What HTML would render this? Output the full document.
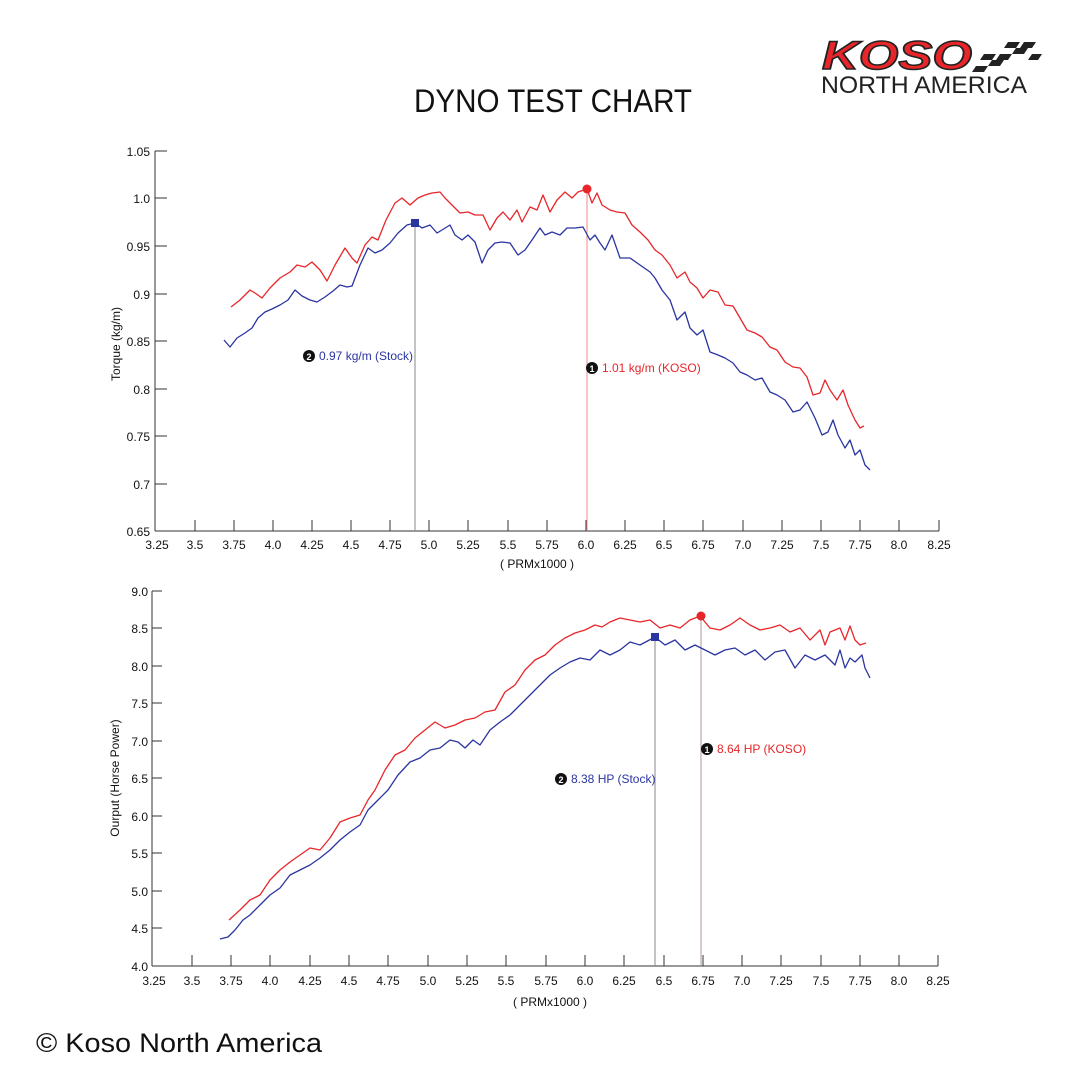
<!DOCTYPE html>
<html><head><meta charset="utf-8"><style>
body{margin:0;background:#fff;width:1080px;height:1080px;overflow:hidden}
svg{display:block}
text{font-family:"Liberation Sans",sans-serif}
</style></head><body>
<svg width="1080" height="1080" viewBox="0 0 1080 1080" xmlns="http://www.w3.org/2000/svg">
<!-- logo -->
<g>
<text x="822" y="69" font-size="40" font-weight="bold" font-style="italic" fill="#e8262a" stroke="#222" stroke-width="1.5" textLength="150" lengthAdjust="spacingAndGlyphs">KOSO</text>
<g fill="#222">
<polygon points="976,66 988,66 984,72 972,72"/><polygon points="992,60 1004,60 1000,66 988,66"/>
<polygon points="1000,54 1012,54 1008,60 996,60"/><polygon points="1016,48 1028,48 1024,54 1012,54"/>
<polygon points="1024,42 1036,42 1032,48 1020,48"/><polygon points="1008,42 1020,42 1016,48 1004,48"/>
<polygon points="1032,54 1042,54 1038,60 1028,60"/><polygon points="984,54 996,54 992,60 980,60"/>
</g>
<text x="821" y="93" font-size="24" fill="#222" textLength="206" lengthAdjust="spacingAndGlyphs">NORTH AMERICA</text>
</g>
<text x="553" y="112" font-size="32" text-anchor="middle" fill="#111" textLength="278" lengthAdjust="spacingAndGlyphs">DYNO TEST CHART</text>

<!-- TOP CHART -->
<g stroke="#333" stroke-width="1" fill="none">
<line x1="155" y1="151" x2="155" y2="531"/><line x1="155" y1="531" x2="939" y2="531"/>
<path d="M155 151h12M155 198h12M155 246h12M155 294h12M155 341h12M155 389h12M155 436h12M155 484h12"/>
<path d="M195 520v11M234 520v11M273 520v11M312 520v11M351 520v11M390 520v11M429 520v11M468 520v11M508 520v11M547 520v11M586 520v11M625 520v11M664 520v11M703 520v11M743 520v11M782 520v11M821 520v11M860 520v11M899 520v11M939 520v11"/>
</g>
<g font-size="12" fill="#111" text-anchor="end">
<text x="150" y="156">1.05</text><text x="150" y="203">1.0</text><text x="150" y="251">0.95</text><text x="150" y="299">0.9</text><text x="150" y="346">0.85</text><text x="150" y="394">0.8</text><text x="150" y="441">0.75</text><text x="150" y="489">0.7</text><text x="150" y="536">0.65</text>
</g>
<g font-size="12" fill="#111" text-anchor="middle">
<text x="157" y="549">3.25</text><text x="195" y="549">3.5</text><text x="234" y="549">3.75</text><text x="273" y="549">4.0</text><text x="312" y="549">4.25</text><text x="351" y="549">4.5</text><text x="390" y="549">4.75</text><text x="429" y="549">5.0</text><text x="468" y="549">5.25</text><text x="508" y="549">5.5</text><text x="547" y="549">5.75</text><text x="586" y="549">6.0</text><text x="625" y="549">6.25</text><text x="664" y="549">6.5</text><text x="703" y="549">6.75</text><text x="743" y="549">7.0</text><text x="782" y="549">7.25</text><text x="821" y="549">7.5</text><text x="860" y="549">7.75</text><text x="899" y="549">8.0</text><text x="939" y="549">8.25</text>
<text x="537" y="568">( PRMx1000 )</text>
</g>
<text transform="translate(120,344) rotate(-90)" font-size="12" text-anchor="middle" fill="#111">Torque (kg/m)</text>
<line x1="415" y1="223" x2="415" y2="531" stroke="#888" stroke-width="1"/>
<line x1="587" y1="189" x2="587" y2="531" stroke="#e88" stroke-width="1"/>
<polyline fill="none" stroke="#e8262a" stroke-width="1.3" stroke-linejoin="round" points="231,307 240,300 250,290 255,293 262,298 270,288 280,278 290,272 297,265 305,267 312,262 320,270 327,281 335,265 345,248 352,258 357,263 365,245 372,237 378,240 386,220 395,203 402,198 410,205 418,198 425,195 432,193 440,192 445,198 452,205 460,213 468,212 475,215 483,215 490,230 497,218 503,212 510,220 517,210 522,222 530,207 537,210 543,195 550,212 557,200 565,192 572,198 578,192 587,189 592,203 597,193 602,205 610,210 617,212 625,213 632,225 640,232 648,240 655,250 662,255 670,265 677,278 685,272 690,282 697,288 703,298 710,290 718,292 725,305 733,306 740,318 747,330 755,333 762,337 770,347 777,350 785,362 793,367 800,368 807,377 813,395 820,393 825,380 830,390 837,400 843,390 848,405 855,420 860,428 864,426"/>
<polyline fill="none" stroke="#2b35a0" stroke-width="1.3" stroke-linejoin="round" points="224,340 230,347 237,338 245,333 252,328 258,318 265,312 272,309 280,305 288,300 295,290 302,296 310,300 317,302 325,297 333,291 340,285 347,287 352,286 360,265 368,248 375,253 382,250 390,243 398,233 407,225 415,223 422,228 430,225 437,233 442,230 450,225 455,235 462,240 468,235 475,242 482,263 488,250 495,243 502,242 510,243 518,255 525,250 532,240 540,228 545,235 552,232 560,235 567,228 575,228 583,227 590,240 595,235 600,243 605,250 612,235 620,258 630,258 640,265 650,272 655,278 662,290 670,300 677,320 685,312 690,328 697,335 703,330 710,352 718,355 725,358 733,363 740,372 747,375 755,380 762,378 770,392 777,395 785,400 793,412 800,410 807,402 815,418 822,435 828,432 833,420 838,435 845,448 850,440 855,455 860,450 865,465 870,470"/>
<rect x="411" y="219" width="8" height="8" fill="#2b35a0"/>
<circle cx="587" cy="189" r="4.5" fill="#e8262a"/>
<circle cx="309" cy="356" r="6" fill="#111"/><text x="309" y="360" font-size="9" fill="#fff" text-anchor="middle" font-weight="bold">2</text>
<text x="319" y="360" font-size="12" fill="#2b35a0">0.97 kg/m (Stock)</text>
<circle cx="592" cy="368" r="6" fill="#111"/><text x="592" y="372" font-size="9" fill="#fff" text-anchor="middle" font-weight="bold">1</text>
<text x="602" y="372" font-size="12" fill="#e8262a">1.01 kg/m (KOSO)</text>

<!-- BOTTOM CHART -->
<g stroke="#333" stroke-width="1" fill="none">
<line x1="152" y1="591" x2="152" y2="966"/><line x1="152" y1="966" x2="938" y2="966"/>
<path d="M152 591h10M152 628h10M152 666h10M152 703h10M152 741h10M152 778h10M152 816h10M152 853h10M152 891h10M152 928h10"/>
<path d="M192 955v11M231 955v11M270 955v11M310 955v11M349 955v11M388 955v11M428 955v11M467 955v11M506 955v11M546 955v11M585 955v11M624 955v11M664 955v11M703 955v11M742 955v11M781 955v11M821 955v11M860 955v11M899 955v11M938 955v11"/>
</g>
<g font-size="12" fill="#111" text-anchor="end">
<text x="148" y="596">9.0</text><text x="148" y="633">8.5</text><text x="148" y="671">8.0</text><text x="148" y="708">7.5</text><text x="148" y="746">7.0</text><text x="148" y="783">6.5</text><text x="148" y="821">6.0</text><text x="148" y="858">5.5</text><text x="148" y="896">5.0</text><text x="148" y="933">4.5</text><text x="148" y="971">4.0</text>
</g>
<g font-size="12" fill="#111" text-anchor="middle">
<text x="154" y="985">3.25</text><text x="192" y="985">3.5</text><text x="231" y="985">3.75</text><text x="270" y="985">4.0</text><text x="310" y="985">4.25</text><text x="349" y="985">4.5</text><text x="388" y="985">4.75</text><text x="428" y="985">5.0</text><text x="467" y="985">5.25</text><text x="506" y="985">5.5</text><text x="546" y="985">5.75</text><text x="585" y="985">6.0</text><text x="624" y="985">6.25</text><text x="664" y="985">6.5</text><text x="703" y="985">6.75</text><text x="742" y="985">7.0</text><text x="781" y="985">7.25</text><text x="821" y="985">7.5</text><text x="860" y="985">7.75</text><text x="899" y="985">8.0</text><text x="938" y="985">8.25</text>
<text x="550" y="1006">( PRMx1000 )</text>
</g>
<text transform="translate(119,778) rotate(-90)" font-size="12" text-anchor="middle" fill="#111">Ourput (Horse Power)</text>
<line x1="655" y1="637" x2="655" y2="966" stroke="#888" stroke-width="1"/>
<line x1="701" y1="616" x2="701" y2="966" stroke="#a99" stroke-width="1"/>
<polyline fill="none" stroke="#e8262a" stroke-width="1.3" stroke-linejoin="round" points="229,920 240,910 250,900 260,895 270,880 280,870 290,862 300,855 310,848 320,850 330,838 340,822 350,818 360,815 368,800 375,790 385,770 395,755 405,750 415,738 425,730 435,722 445,728 455,725 465,720 475,718 485,712 495,710 505,692 515,685 525,670 535,660 545,655 555,645 565,638 575,633 585,630 595,625 602,627 610,622 620,618 630,620 640,622 650,620 660,628 670,625 680,628 690,620 700,616 710,628 720,630 730,625 740,618 750,625 760,630 770,628 780,625 790,632 800,628 810,640 820,630 825,645 830,632 840,628 845,640 850,626 855,640 860,645 866,643"/>
<polyline fill="none" stroke="#2b35a0" stroke-width="1.3" stroke-linejoin="round" points="220,939 228,937 235,930 243,920 250,915 260,905 270,895 280,888 290,875 300,870 310,865 320,858 330,850 340,840 350,832 360,825 368,810 378,800 388,790 398,775 410,762 420,758 430,750 440,748 450,740 458,742 465,748 473,740 480,745 490,730 500,722 510,715 520,705 530,695 540,685 550,675 560,668 570,662 580,658 590,660 600,650 610,655 620,650 630,642 640,645 655,637 665,645 675,640 685,650 695,645 705,650 715,655 725,650 735,648 745,655 755,650 765,660 775,652 785,650 795,668 805,655 815,660 825,655 835,665 840,650 845,668 850,658 855,662 862,655 865,668 870,678"/>
<rect x="651" y="633" width="8" height="8" fill="#2b35a0"/>
<circle cx="701" cy="616" r="4.5" fill="#e8262a"/>
<circle cx="561" cy="779" r="6" fill="#111"/><text x="561" y="783" font-size="9" fill="#fff" text-anchor="middle" font-weight="bold">2</text>
<text x="571" y="783" font-size="12" fill="#2b35a0">8.38 HP (Stock)</text>
<circle cx="707" cy="749" r="6" fill="#111"/><text x="707" y="753" font-size="9" fill="#fff" text-anchor="middle" font-weight="bold">1</text>
<text x="717" y="753" font-size="12" fill="#e8262a">8.64 HP (KOSO)</text>

<text x="36" y="1052" font-size="27" fill="#111" textLength="286" lengthAdjust="spacingAndGlyphs">© Koso North America</text>
</svg>
</body></html>
